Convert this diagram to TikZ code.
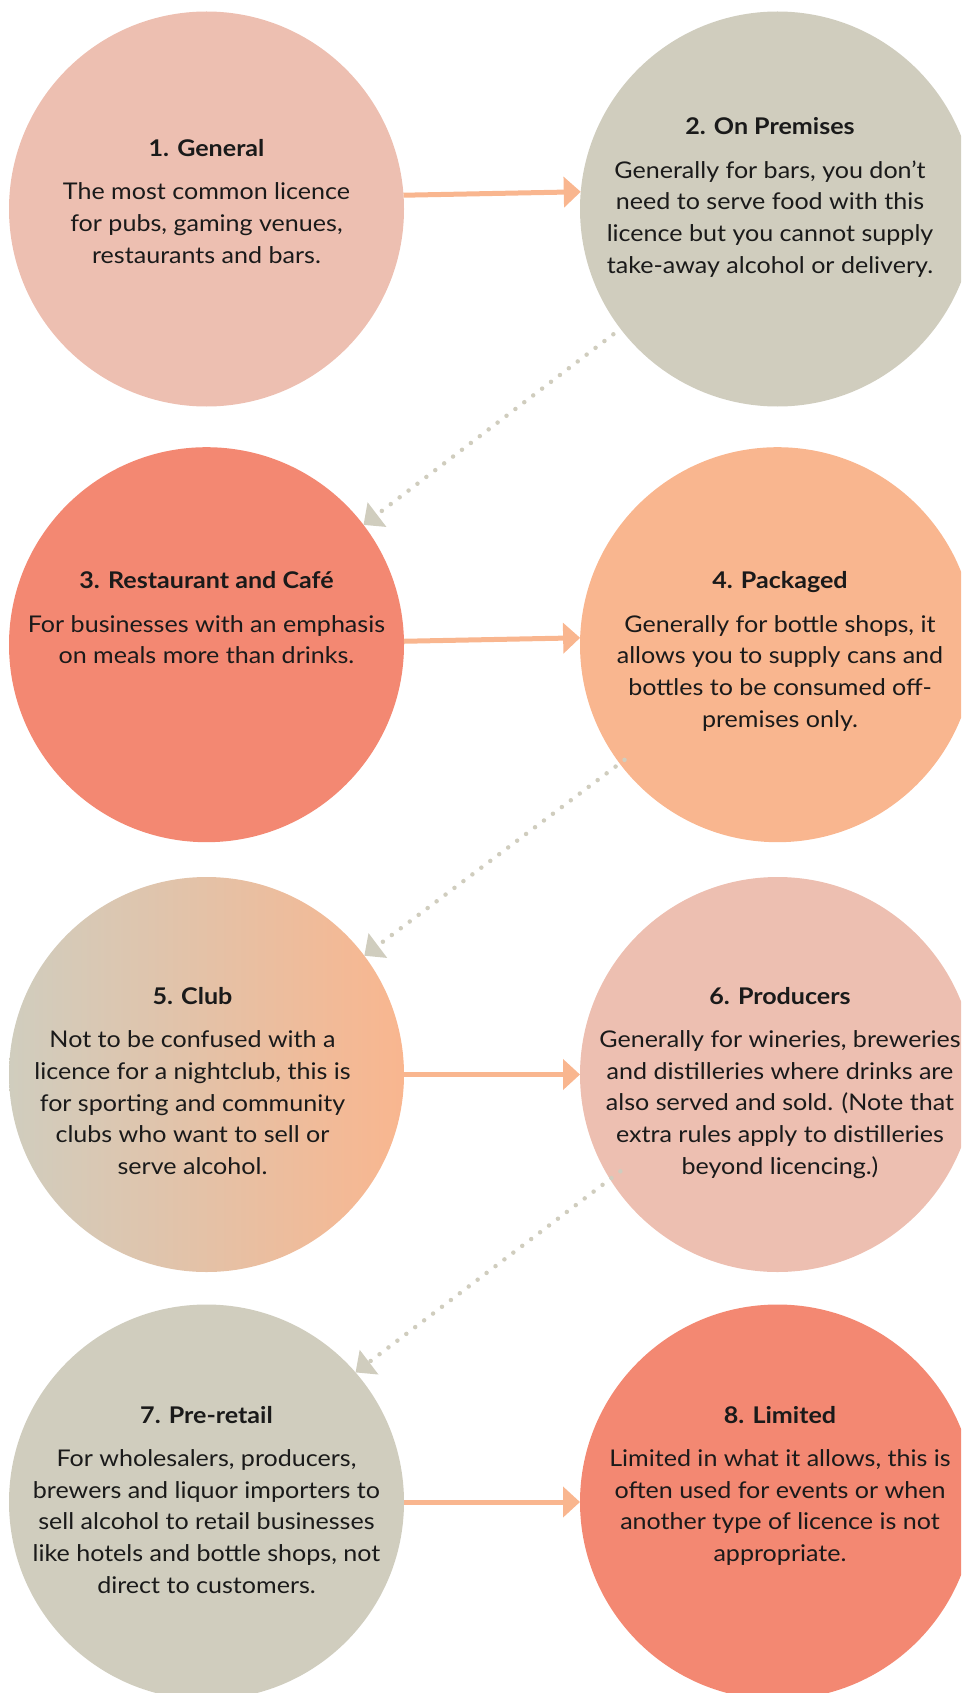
\documentclass[tikz,border=0pt]{standalone}
\usepackage{fontspec}
\setmainfont{Lato}[FakeStretch=1.09]
\usepackage{xcolor}
\usepackage{tikz}
\usetikzlibrary{positioning,arrows.meta}
\definecolor{LicPink}{RGB}{237,191,177}
\definecolor{LicStone}{RGB}{208,205,190}
\definecolor{LicSalmon}{RGB}{243,136,114}
\definecolor{LicPeach}{RGB}{249,182,143}
\definecolor{LicInk}{RGB}{26,26,26}

\begin{document}
\begin{tikzpicture}[x=1pt, y=-1pt,
  every node/.style={font=\fontsize{23}{31.7}\selectfont, align=center, text=LicInk},
  disc/.style={circle, minimum size=395pt, inner sep=0pt, outer sep=0pt},
  txt/.style={anchor=base, inner sep=0pt},
  flow/.style={draw=LicPeach, line width=5pt, -{Triangle[length=17pt, width=30pt]}},
  hop/.style={draw=LicStone, line width=4.5pt, line cap=round, dash pattern=on 0pt off 11.2pt, -{Triangle[length=17pt, width=30pt]}}
]
\path[use as bounding box, clip] (0,0) rectangle (961,1693);

\node[disc, fill=LicPink] (c1) at (206.5,209) {};
\node[disc, fill=LicStone] (c2) at (777.5,209) {};
\node[disc, fill=LicSalmon] (c3) at (206.5,644.7) {};
\node[disc, fill=LicPeach] (c4) at (777.5,644.7) {};
\node[disc, left color=LicStone, right color=LicPeach] (c5) at (206.5,1074.5) {};
\node[disc, fill=LicPink] (c6) at (777.5,1074.5) {};
\node[disc, fill=LicStone] (c7) at (206.5,1502) {};
\node[disc, fill=LicSalmon] (c8) at (777.5,1502) {};

\node[txt] (t1) at (206.5,263.4) {\textbf{1. General}\\[11.6pt]The most common licence\\for pubs, gaming venues,\\restaurants and bars.};
\node[txt] (t2) at (770,273.4) {\textbf{2. On Premises}\\[11.6pt]Generally for bars, you don’t\\need to serve food with this\\licence but you cannot supply\\take-away alcohol or delivery.};
\node[txt] (t3) at (206.5,663.7) {\textbf{3. Restaurant and Café}\\[11.6pt]For businesses with an emphasis\\on meals more than drinks.};
\node[txt] (t4) at (780,727.1) {\textbf{4. Packaged}\\[11.6pt]Generally for bottle shops, it\\allows you to supply cans and\\bottles to be consumed off-\\premises only.};
\node[txt] (t5) at (192.5,1174.4) {\textbf{5. Club}\\[11.6pt]Not to be confused with a\\licence for a nightclub, this is\\for sporting and community\\clubs who want to sell or\\serve alcohol.};
\node[txt] (t6) at (780,1174.1) {\textbf{6. Producers}\\[11.6pt]Generally for wineries, breweries\\and distilleries where drinks are\\also served and sold. (Note that\\extra rules apply to distilleries\\beyond licencing.)};
\node[txt] (t7) at (206.5,1593.1) {\textbf{7. Pre-retail}\\[11.6pt]For wholesalers, producers,\\brewers and liquor importers to\\sell alcohol to retail businesses\\like hotels and bottle shops, not\\direct to customers.};
\node[txt] (t8) at (780,1561.4) {\textbf{8. Limited}\\[11.6pt]Limited in what it allows, this is\\often used for events or when\\another type of licence is not\\appropriate.};

\draw[flow] (c1.4.6) -- (c2.175.4);
\draw[flow] (c3.1.5) -- (c4.178.5);
\draw[flow] (c5) -- (c6);
\draw[flow] (c7) -- (c8);

\draw[hop, shorten <=9pt] (c2) -- (c3);
\draw[hop, shorten <=-6pt] (c4) -- (c5);
\draw[hop, shorten <=-13pt] (c6.212.7) -- (c7.41.1);
\end{tikzpicture}
\end{document}
